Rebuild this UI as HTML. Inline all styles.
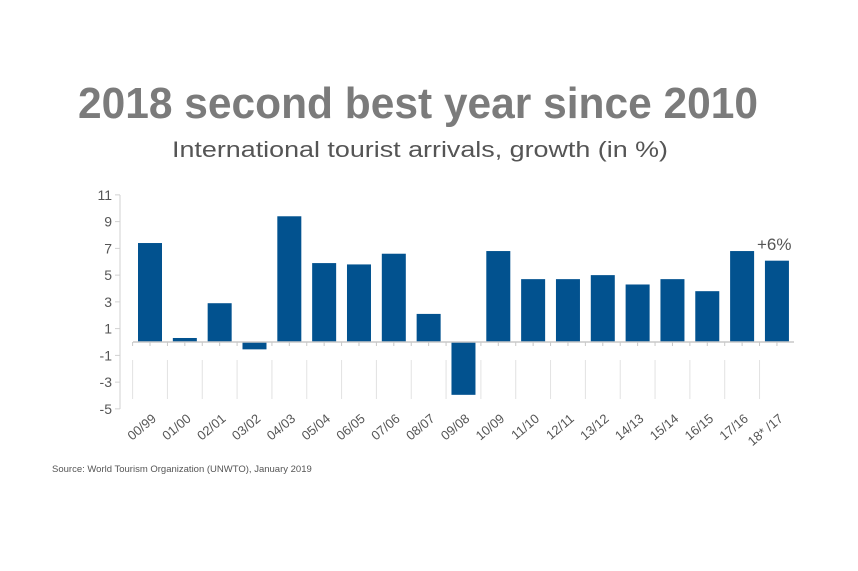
<!DOCTYPE html>
<html><head><meta charset="utf-8"><style>
html,body{margin:0;padding:0;background:#fff;}
svg{display:block;}
</style></head><body>
<svg width="858" height="571" xmlns="http://www.w3.org/2000/svg" font-family="Liberation Sans, sans-serif">
<rect width="858" height="571" fill="#fff"/>
<text x="418" y="118" text-anchor="middle" font-size="44" font-weight="bold" fill="#7b7b7b" textLength="680" lengthAdjust="spacingAndGlyphs">2018 second best year since 2010</text>
<text x="420" y="157" text-anchor="middle" font-size="22" fill="#555" textLength="496" lengthAdjust="spacingAndGlyphs">International tourist arrivals, growth (in %)</text>
<g id="grid" stroke="#e2e2e2" stroke-width="1"></g>
<g id="bars" fill="#02528f"></g>
<line x1="120" y1="195" x2="120" y2="409" stroke="#d0d0d0"/>
<line x1="133" y1="342" x2="794" y2="342" stroke="#c8c8c8" stroke-width="1.5"/>
<g id="yl" font-size="14" fill="#555" text-anchor="end"></g>
<g id="xl" font-size="13" fill="#555" text-anchor="end"></g>
<text x="757" y="250" font-size="17" fill="#555">+6%</text>
<text x="52" y="472" font-size="9.5" fill="#555">Source: World  Tourism Organization (UNWTO), January 2019</text>
</svg>
<script>
(function(){
var ns="http://www.w3.org/2000/svg";
function el(p,t,a,txt){var e=document.createElementNS(ns,t);for(var k in a)e.setAttribute(k,a[k]);if(txt)e.textContent=txt;document.getElementById(p).appendChild(e);}
var vals=[7.4,0.3,2.9,-0.55,9.4,5.9,5.8,6.6,2.1,-3.95,6.8,4.7,4.7,5.0,4.3,4.7,3.8,6.8,6.08];
var labs=["00/99","01/00","02/01","03/02","04/03","05/04","06/05","07/06","08/07","09/08","10/09","11/10","12/11","13/12","14/13","15/14","16/15","17/16","18* /17"];
var u=13.375,z=342,p=34.83,x0=138;
for(var t=-5;t<=11;t+=2){var y=z-t*u;el("yl","text",{x:112,y:y+5},String(t));el("grid","line",{x1:115,y1:y,x2:120,y2:y,stroke:"#d0d0d0"});}
for(var i=0;i<19;i++){var x=x0+i*p,v=vals[i];
 var by=v>0?z-v*u:z, h=Math.abs(v)*u;
 el("bars","rect",{x:x,y:by,width:24,height:h});
 var b=x-5.4;
 el("grid","line",{x1:b,y1:360,x2:b,y2:399});
 el("grid","line",{x1:b,y1:342,x2:b,y2:346,stroke:"#c8c8c8"});
 el("grid","line",{x1:x+12,y1:342,x2:x+12,y2:346,stroke:"#c8c8c8"});
 el("xl","text",{x:x+19,y:420,transform:"rotate(-40 "+(x+19)+" 420)"},labs[i]);
}
})();
</script>
</body></html>
